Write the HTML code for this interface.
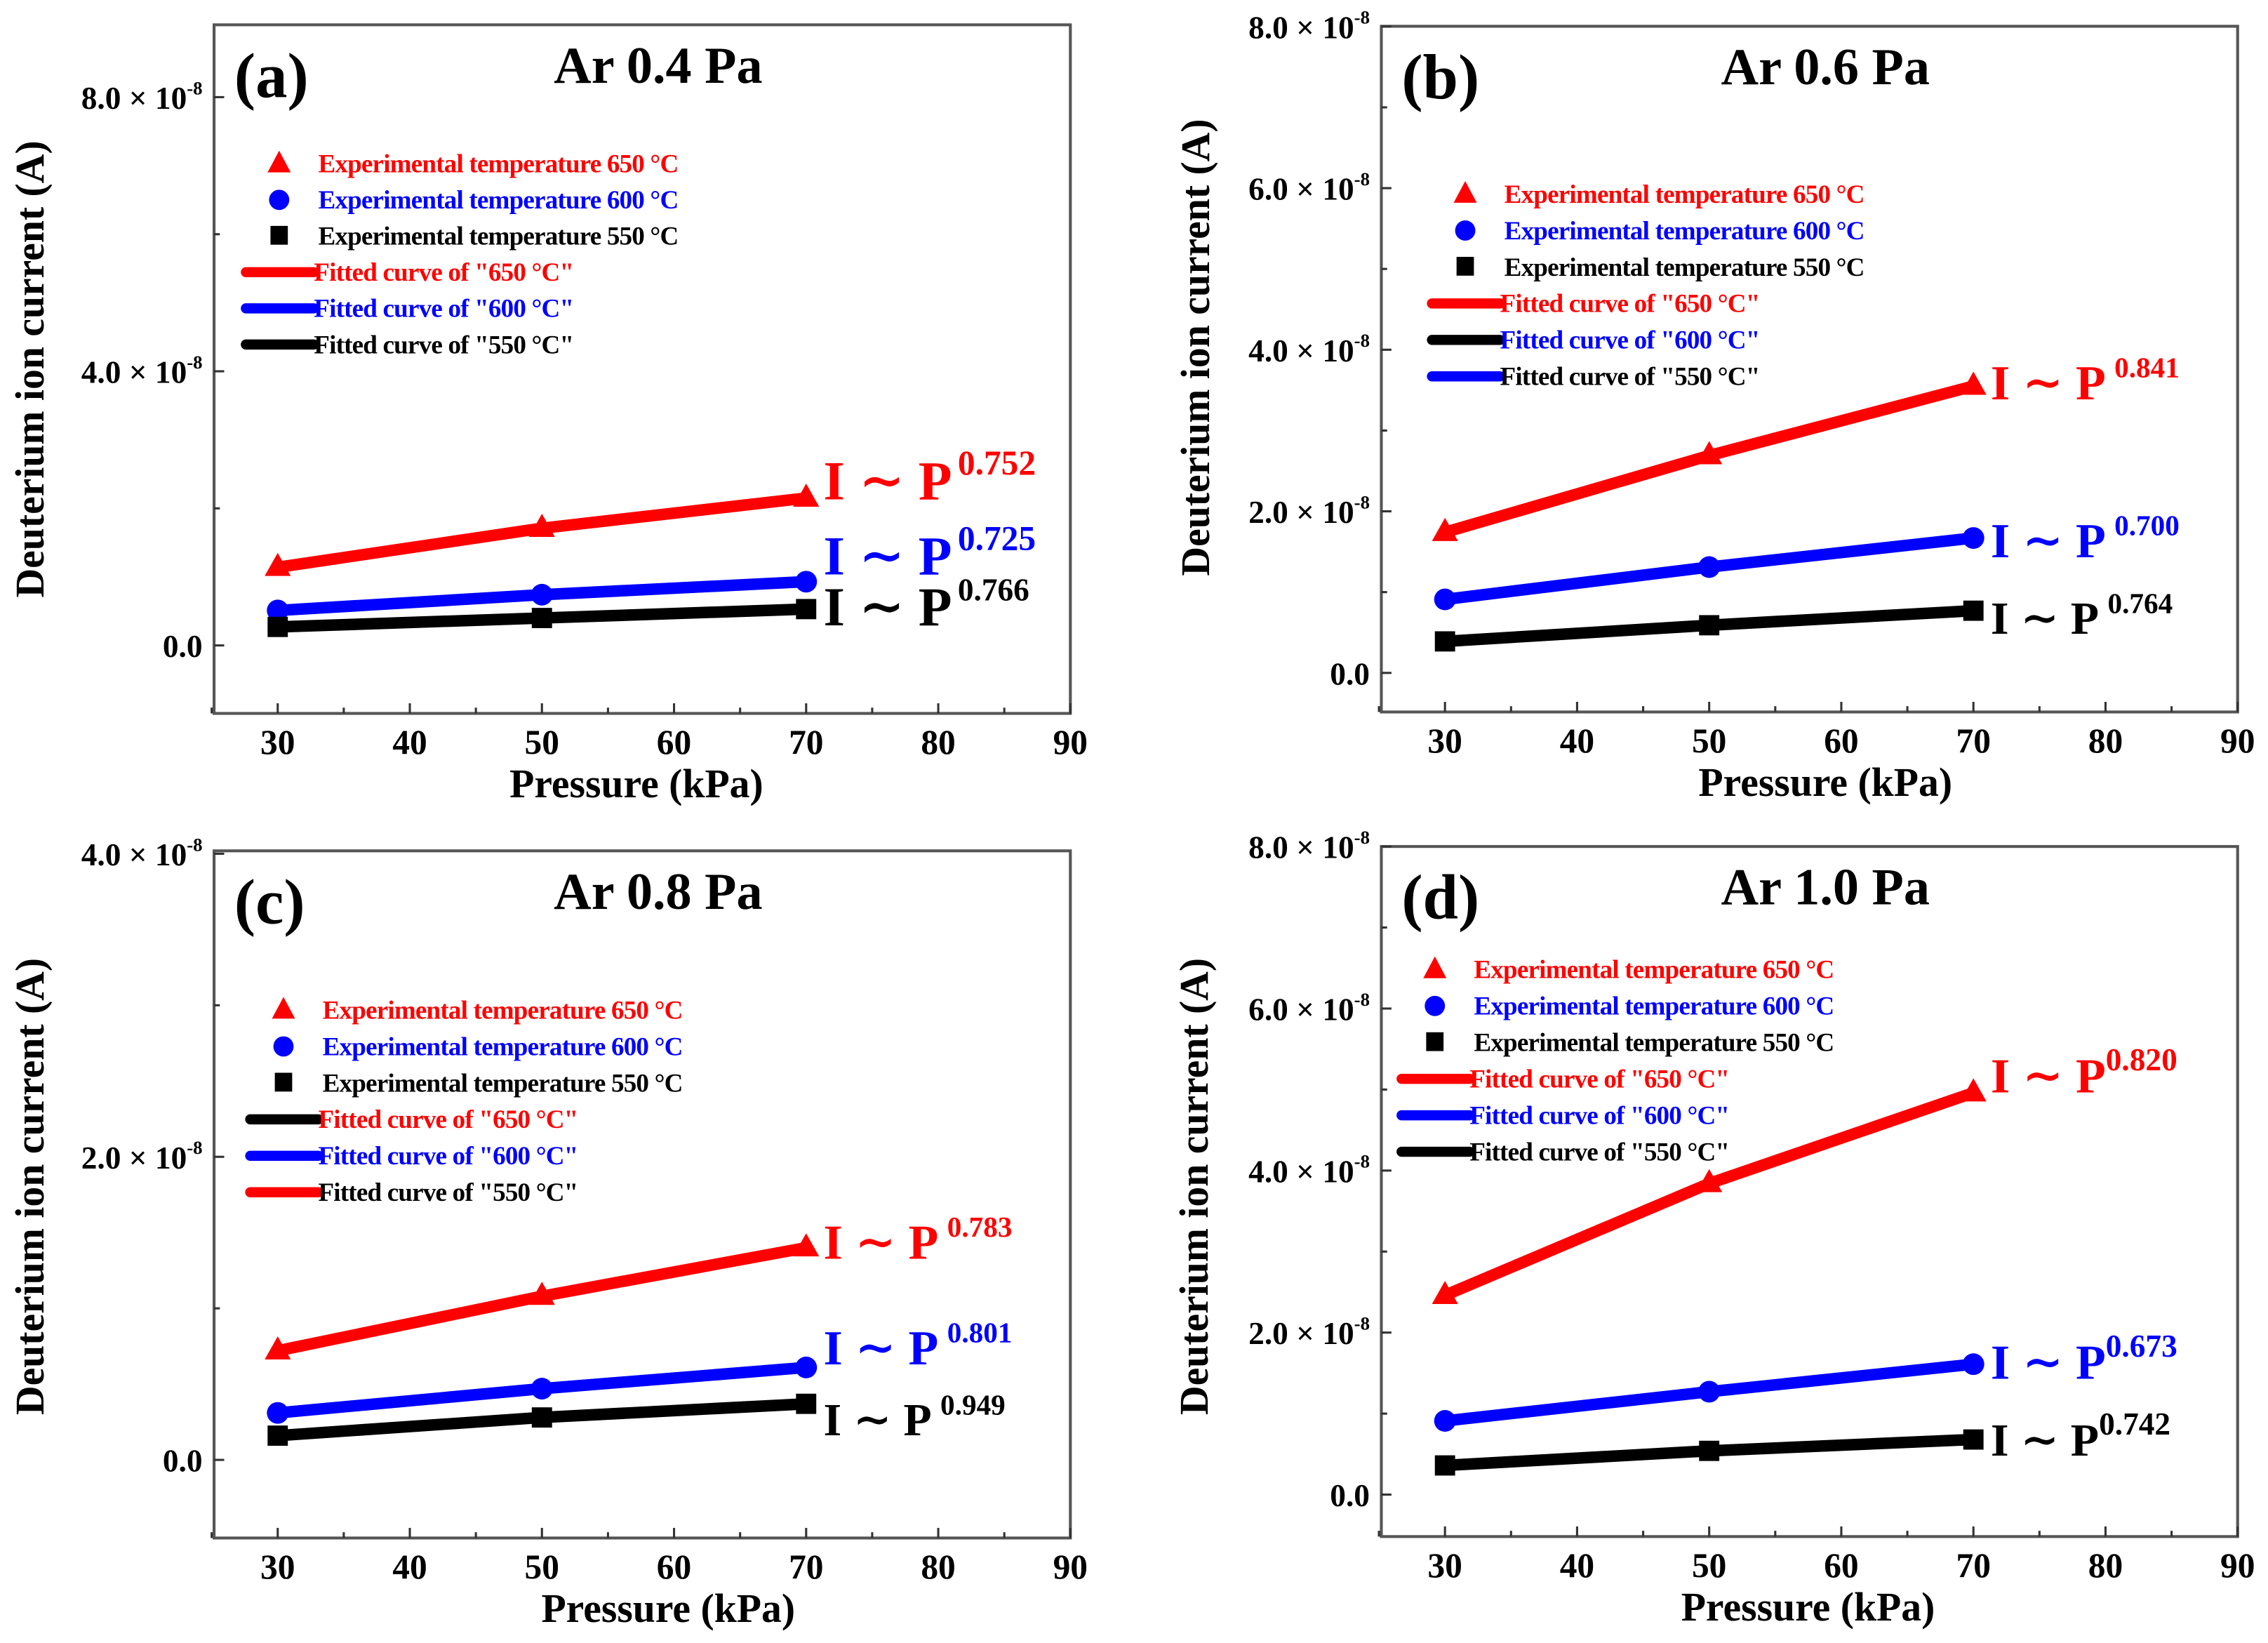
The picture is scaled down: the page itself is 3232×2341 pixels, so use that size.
<!DOCTYPE html>
<html><head><meta charset="utf-8">
<style>
html,body{margin:0;padding:0;background:#fff;}
svg, svg text{font-family:"Liberation Serif","DejaVu Serif",serif !important;font-weight:bold;}
</style></head>
<body>
<svg id="fig" width="3232" height="2336" viewBox="0 0 1568 1133" font-family="Liberation Serif, DejaVu Serif, serif" font-weight="bold" xmlns="http://www.w3.org/2000/svg"></svg>
<script>
// ---- data ----
const pressures = [30, 50, 70];
const xTicks = [30, 40, 50, 60, 70, 80, 90];
// panel (a) Ar 0.4 Pa (units 1e-8 A)
const a650 = [1.14, 1.71, 2.15];
const a600 = [0.51, 0.74, 0.93];
const a550 = [0.27, 0.40, 0.53];
const aExp = ["0.752", "0.725", "0.766"];
const aYTicks = [0, 4, 8];
// panel (b) Ar 0.6 Pa
const b650 = [1.74, 2.69, 3.55];
const b600 = [0.91, 1.31, 1.67];
const b550 = [0.39, 0.59, 0.77];
const bExp = ["0.841", "0.700", "0.764"];
const bYTicks = [0, 2, 4, 6, 8];
// panel (c) Ar 0.8 Pa
const c650 = [0.72, 1.08, 1.40];
const c600 = [0.31, 0.47, 0.61];
const c550 = [0.16, 0.28, 0.37];
const cExp = ["0.783", "0.801", "0.949"];
const cYTicks = [0, 2, 4];
// panel (d) Ar 1.0 Pa
const d650 = [2.46, 3.84, 4.96];
const d600 = [0.91, 1.27, 1.61];
const d550 = [0.36, 0.54, 0.68];
const dExp = ["0.820", "0.673", "0.742"];
const dYTicks = [0, 2, 4, 6, 8];

const NS = "http://www.w3.org/2000/svg";
const svg = document.getElementById('fig');
const FF = "Liberation Serif, DejaVu Serif, serif";
function mk(tag, attrs, parent, txt){
  const e = document.createElementNS(NS, tag);
  for (const k in attrs) e.setAttribute(k, attrs[k]);
  if (tag === 'text') { e.setAttribute('font-family', FF); e.setAttribute('font-weight', 'bold'); }
  if (txt !== undefined) e.textContent = txt;
  (parent || svg).appendChild(e);
  return e;
}
const RED = "#ff0000", BLUE = "#0000ff", BLK = "#000000";

function panel(cfg){
  const g = mk('g', {});
  
  
  const L = cfg.left, R = cfg.right, T = cfg.top, B = cfg.bottom;
  const xs = v => cfg.x30 + (v - 30) * (R - cfg.x30) / 60;
  const ys = v => cfg.y0 - v * cfg.yPer;
  const fr = mk('rect', {x:L, y:T, width:R-L, height:B-T, fill:'none', stroke:'#555', 'stroke-width':2}, g);
  
  
  for (let v = 25; v <= 90; v += 5) {
    const x = xs(v), len = (v % 10 === 0) ? 7 : 4;
    mk('line', {x1:x, y1:B, x2:x, y2:B-len, stroke:'#333', 'stroke-width':1.5}, g);
  }
  xTicks.forEach(v => {
    const t = mk('text', {x:xs(v), y:B+28, 'text-anchor':'middle', 'font-size':24}, g, v);
    
    
  });
  const step = cfg.yTicks[1] - cfg.yTicks[0];
  for (let v = cfg.yTicks[0]; v <= cfg.yTicks[cfg.yTicks.length-1] + 1e-9; v += step/2) {
    const y = ys(v);
    if (y < T - 1 || y > B) continue;
    const major = Math.abs((v / step) - Math.round(v / step)) < 1e-6;
    mk('line', {x1:L, y1:y, x2:L+(major?7:4), y2:y, stroke:'#333', 'stroke-width':1.5}, g);
  }
  cfg.yTicks.forEach(v => {
    const y = ys(v);
    const t = mk('text', {x:L-8, y:y+8, 'text-anchor':'end', 'font-size':22}, g);
    
    
    if (v === 0) { t.textContent = '0.0'; }
    else {
      mk('tspan', {}, t, v.toFixed(1) + ' × 10');
      mk('tspan', {'font-size':13, dy:-10}, t, '-8');
    }
  });
  const xt = mk('text', {x:cfg.xTitleX, y:B+58, 'text-anchor':'middle', 'font-size':28}, g, 'Pressure (kPa)');
  
  
  const yt = mk('text', {x:0, y:0, 'text-anchor':'middle', 'font-size':28, transform:`translate(${cfg.yTitleX},${cfg.yTitleY}) rotate(-90)`}, g, 'Deuterium ion current (A)');
  
  
  const pl = mk('text', {x:L+14, y:T+50, 'font-size':44}, g, '(' + cfg.id + ')');
  
  
  const pt = mk('text', {x:cfg.titleX, y:T+40, 'text-anchor':'middle', 'font-size':36}, g, cfg.title);
  
  
  const series = [
    {vals:cfg.s650, col:RED, mark:'tri', name:'650'},
    {vals:cfg.s600, col:BLUE, mark:'circ', name:'600'},
    {vals:cfg.s550, col:BLK, mark:'sq', name:'550'}
  ];
  series.forEach((s, i) => {
    const pts = pressures.map((p, k) => xs(p) + ',' + ys(s.vals[k])).join(' ');
    const pl2 = mk('polyline', {points:pts, fill:'none', stroke:s.col, 'stroke-width':8, 'stroke-linejoin':'round'}, g);
    
    
    pressures.forEach((p, k) => {
      const x = xs(p), y = ys(s.vals[k]);
      let m;
      if (s.mark === 'tri') m = mk('polygon', {points:`${x},${y-10} ${x-9},${y+6} ${x+9},${y+6}`, fill:s.col}, g);
      else if (s.mark === 'circ') m = mk('circle', {cx:x, cy:y, r:7.5, fill:s.col}, g);
      else m = mk('rect', {x:x-7, y:y-7, width:14, height:14, fill:s.col}, g);
      
      
    });
    const lab = mk('text', {x:xs(70) + 12, y:cfg.labY[i], 'font-size':cfg.labSize[i], fill:s.col}, g);
    
    
    mk('tspan', {}, lab, 'I ∼ P');
    mk('tspan', {'font-size':cfg.supSize[i], dy:-cfg.labSize[i]*0.45, dx:cfg.supDx}, lab, cfg.exps[i]);
  });
  const lx = cfg.legX, ly = cfg.legY, dy = cfg.legDy;
  const legText = [
    ['Experimental temperature 650 °C', RED],
    ['Experimental temperature 600 °C', BLUE],
    ['Experimental temperature 550 °C', BLK],
    ['Fitted curve of "650 °C"', RED],
    ['Fitted curve of "600 °C"', BLUE],
    ['Fitted curve of "550 °C"', BLK]
  ];
  legText.forEach((lt, i) => {
    const y = ly + i * dy;
    const e = mk('g', {}, g);
    
    
    if (i === 0) mk('polygon', {points:`${lx},${y-9} ${lx-8},${y+6} ${lx+8},${y+6}`, fill:RED}, e);
    else if (i === 1) mk('circle', {cx:lx, cy:y, r:7, fill:BLUE}, e);
    else if (i === 2) mk('rect', {x:lx-6, y:y-7, width:12, height:13, fill:BLK}, e);
    else mk('line', {x1:lx-23, y1:y, x2:lx+24, y2:y, stroke:cfg.legLineCols[i-3], 'stroke-width':7, 'stroke-linecap':'round'}, e);
    const tx = i < 3 ? lx + 27 : lx + 24;
    mk('text', {x:tx, y:y+6, 'font-size':18, fill:lt[1], 'letter-spacing':-0.4}, e, lt[0]);
  });
}

panel({id:'a', title:'Ar 0.4 Pa', left:148, right:740, top:17, bottom:493, x30:192, y0:446, yPer:189.5/4,
  yTicks:aYTicks, s650:a650, s600:a600, s550:a550, exps:aExp,
  labY:[345, 397, 432], labSize:[38, 38, 38], supSize:[24, 24, 22], supDx:4,
  legX:193, legY:113, legDy:25, legLineCols:[RED, BLUE, BLK],
  xTitleX:440, yTitleX:30, yTitleY:255, titleX:455});
panel({id:'b', title:'Ar 0.6 Pa', left:955, right:1547, top:18, bottom:492, x30:999, y0:465, yPer:111.7/2,
  yTicks:bYTicks, s650:b650, s600:b600, s550:b550, exps:bExp,
  labY:[276, 385, 438], labSize:[34, 34, 32], supSize:[20, 20, 20], supDx:6,
  legX:1013, legY:134, legDy:25.2, legLineCols:[RED, BLK, BLUE],
  xTitleX:1262, yTitleX:836, yTitleY:240, titleX:1262});
panel({id:'c', title:'Ar 0.8 Pa', left:148, right:740, top:588, bottom:1063, x30:192, y0:1009, yPer:209.5/2,
  yTicks:cYTicks, s650:c650, s600:c600, s550:c550, exps:cExp,
  labY:[870, 943, 992], labSize:[34, 34, 32], supSize:[20, 20, 20], supDx:6,
  legX:196, legY:698, legDy:25.2, legLineCols:[BLK, BLUE, RED],
  xTitleX:462, yTitleX:30, yTitleY:820, titleX:455});
panel({id:'d', title:'Ar 1.0 Pa', left:955, right:1547, top:585, bottom:1062, x30:999, y0:1033, yPer:112/2,
  yTicks:dYTicks, s650:d650, s600:d600, s550:d550, exps:dExp,
  labY:[755, 953, 1006], labSize:[34, 34, 32], supSize:[22, 22, 22], supDx:0,
  legX:992, legY:670, legDy:25.2, legLineCols:[RED, BLUE, BLK],
  xTitleX:1250, yTitleX:835, yTitleY:820, titleX:1262});
</script>
</body></html>
